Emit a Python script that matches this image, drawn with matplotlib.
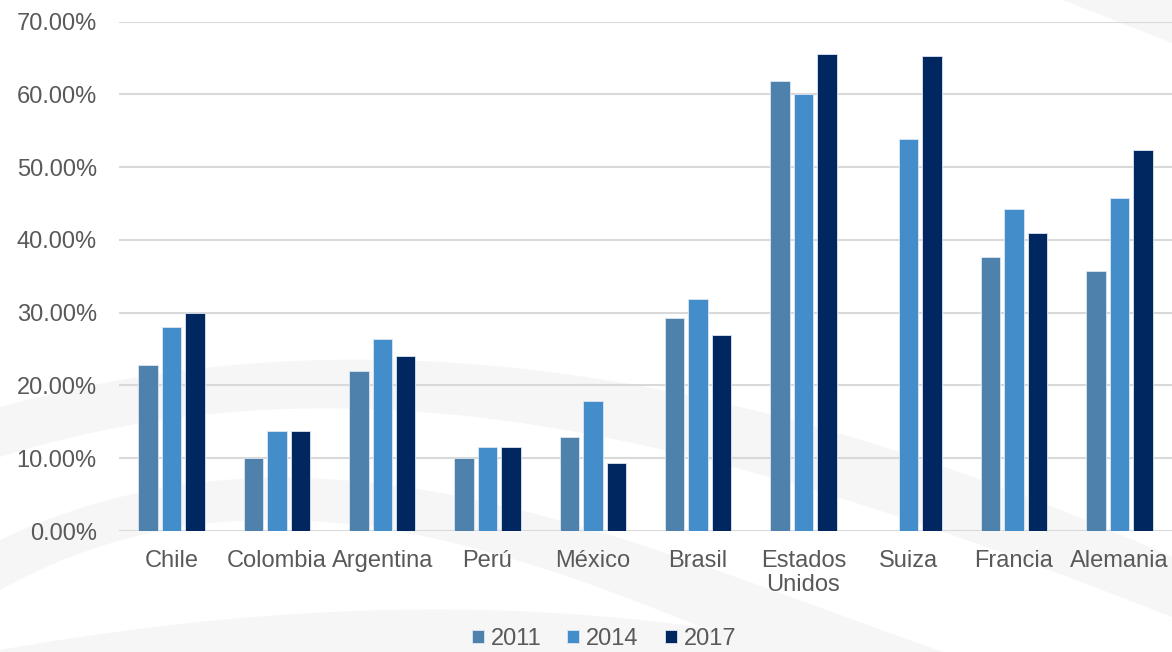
import numpy as np
import matplotlib
matplotlib.use("Agg")
import matplotlib.pyplot as plt

plt.rcParams["font.family"] = ["Liberation Sans", "DejaVu Sans"]

# datos (porcentaje)
paises = ["Chile", "Colombia", "Argentina", "Perú", "México", "Brasil",
          "Estados\nUnidos", "Suiza", "Francia", "Alemania"]
anios = ["2011", "2014", "2017"]
v2011 = [22.8, 10.0, 22.0, 10.0, 12.9, 29.3, 61.9, np.nan, 37.6, 35.7]
v2014 = [28.1, 13.8, 26.4, 11.5, 17.9, 31.9, 60.1, 53.9, 44.3, 45.7]
v2017 = [29.9, 13.8, 24.0, 11.5, 9.4, 27.0, 65.6, 65.3, 41.0, 52.4]
colores = ["#4f81ad", "#448dcb", "#012761"]
y_ticks = [0, 10, 20, 30, 40, 50, 60, 70]

W, H = 1172, 652
fig = plt.figure(figsize=(W / 100, H / 100), dpi=100)
fig.patch.set_facecolor("white")

# fondo: bandas grises muy claras (decorativas)
bg = fig.add_axes([0, 0, 1, 1], zorder=-5)
bg.set_xlim(0, W)
bg.set_ylim(H, 0)
bg.axis("off")
xs = np.linspace(0, W, 300)

def curva(px, py):
    return np.polyval(np.polyfit(px, py, 3), xs)

gris = "#f6f6f6"
bandas = [
    ([0, 390, 780, 1172], [407, 360, 417, 557], [457, 410, 480, 617]),
    ([0, 390, 780, 1172], [540, 485, 593, 720], [590, 530, 660, 800]),
    ([0, 390, 780, 1172], [650, 610, 640, 760], [760, 760, 800, 900]),
]
for px, top, bot in bandas:
    bg.fill_between(xs, curva(px, top), curva(px, bot), color=gris, lw=0)
bg.fill([1063, 1172, 1172], [0, 0, 43], color=gris, lw=0)

ax = fig.add_axes([119 / W, 1 - 531 / H, 1 - 119 / W, (531 - 21.7) / H])
ax.set_facecolor("none")

x = np.arange(len(paises))
paso = 0.223
for i, (serie, anio, c) in enumerate(zip([v2011, v2014, v2017], anios, colores)):
    ax.bar(x + (i - 1) * paso, serie, width=0.185, color=c, label=anio,
           edgecolor="#dce6f2", linewidth=0.6, zorder=3)

ax.set_xlim(-0.5, len(paises) - 0.5)
ax.set_ylim(0, 70)
ax.set_yticks(y_ticks)
ax.set_yticklabels([f"{t:.2f}%" for t in y_ticks])
ax.set_xticks(x)
ax.set_xticklabels(paises, linespacing=1.1)
ax.yaxis.grid(True, color="#d9d9d9", linewidth=1.5, zorder=0)
ax.set_axisbelow(True)
for s in ax.spines.values():
    s.set_visible(False)
ax.tick_params(axis="both", length=0, labelsize=17, colors="#595959")
ax.tick_params(axis="y", pad=16)
ax.tick_params(axis="x", pad=14)

fig.legend(loc="center", bbox_to_anchor=(604 / W, 1 - 639 / H), ncol=3,
           frameon=False, fontsize=17, labelcolor="#595959",
           handlelength=0.5, handleheight=0.5, handletextpad=0.3,
           columnspacing=1.1, borderpad=0)

fig.savefig("out.png", dpi=100, facecolor="white")
